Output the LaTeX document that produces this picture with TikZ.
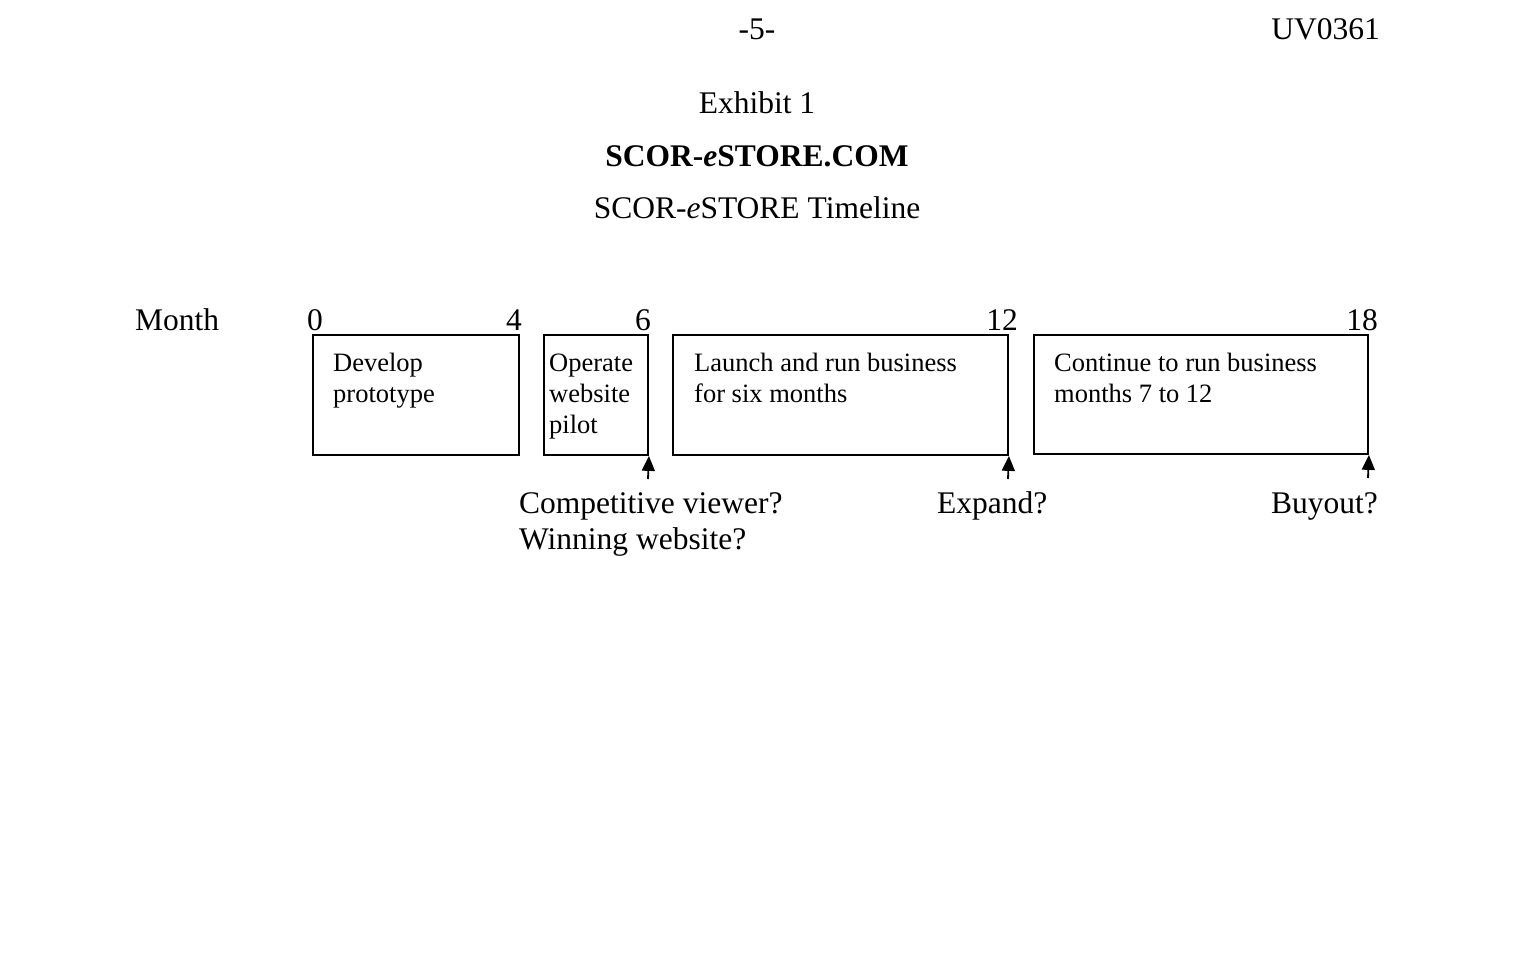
\documentclass[tikz,border=0pt]{standalone}
\usepackage{fontspec}
\setmainfont{Liberation Serif}
\usetikzlibrary{arrows.meta}
\newcommand\mainsz{\fontsize{31.5pt}{36pt}\selectfont}
\newcommand\boxsz{\fontsize{26.5pt}{31pt}\selectfont}
\begin{document}
\begin{tikzpicture}[x=1pt,y=-1pt,
  txt/.style={inner sep=0pt,font=\mainsz},
  btxt/.style={inner sep=0pt,font=\boxsz,anchor=base west,align=left},
  stagebox/.style={draw,line width=1.8pt,inner sep=0pt},
  qarrow/.style={line width=1.8pt,-{Triangle[width=13pt,length=15pt]}}]
\useasboundingbox (0,0) rectangle (1518,966);
% header
\node[txt,anchor=base] (pg) at (757,40) {-5-};
\node[txt,anchor=base east] (code) at (1380,40) {UV0361};
% titles
\node[txt,anchor=base] (ex) at (757,113) {Exhibit 1};
\node[txt,anchor=base] (co) at (757,166) {\textbf{SCOR-\textit{e}STORE.COM}};
\node[txt,anchor=base] (tl) at (757,218) {SCOR-\textit{e}STORE Timeline};
% month axis
\node[txt,anchor=base west] (month) at (135,330) {Month};
\node[txt,anchor=base] (m0) at (315,330) {0};
\node[txt,anchor=base east] (m4) at (522,330) {4};
\node[txt,anchor=base east] (m6) at (651,330) {6};
\node[txt,anchor=base east] (m12) at (1018,330) {12};
\node[txt,anchor=base east] (m18) at (1378,330) {18};
% boxes
\node[stagebox,minimum width=206pt,minimum height=120pt] (b1) at (416,395) {};
\node[stagebox,minimum width=104pt,minimum height=120pt] (b2) at (596,395) {};
\node[stagebox,minimum width=335pt,minimum height=120pt] (b3) at (840.5,395) {};
\node[stagebox,minimum width=334pt,minimum height=119pt] (b4) at (1201,394.5) {};
% box texts (base anchor = last line baseline)
\node[btxt] (t1) at (333,402) {Develop\\prototype};
\node[btxt] (t2) at (549,433) {Operate\\website\\pilot};
\node[btxt] (t3) at (694,402) {Launch and run business\\for six months};
\node[btxt] (t4) at (1054,402) {Continue to run business\\months 7 to 12};
% arrows
\coordinate (a2) at (648,479);
\coordinate (a3) at (1008,479);
\coordinate (a4) at (1368,478);
\draw[qarrow] (a2) -- (b2.south east);
\draw[qarrow] (a3) -- (b3.south east);
\draw[qarrow] (a4) -- (b4.south east);
% questions
\node[txt,anchor=base west,align=left] (q1) at (519,549) {Competitive viewer?\\Winning website?};
\node[txt,anchor=base west] (q2) at (937,513) {Expand?};
\node[txt,anchor=base east] (q3) at (1378,513) {Buyout?};
\end{tikzpicture}
\end{document}
